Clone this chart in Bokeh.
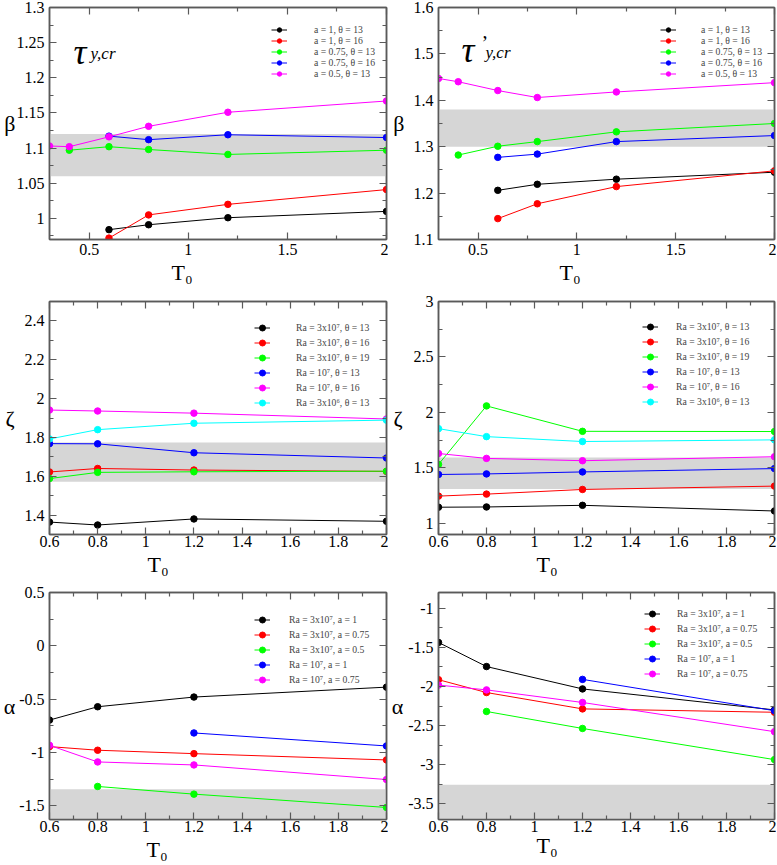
from bokeh.plotting import figure
from bokeh.layouts import gridplot
from bokeh.models import (Range1d, LinearAxis, FixedTicker, CustomJSTickFormatter,
                          BoxAnnotation, Legend, LegendItem, Label, Title)
from bokeh.embed import file_html
from bokeh.resources import INLINE

# ---------------- data ----------------
COLORS = ["#000000", "#ff0000", "#00ff00", "#0000ff", "#ff00ff", "#00ffff"]

# Panel A : beta vs T0, tau_y,cr
A_labels = ["a = 1, θ = 13", "a = 1, θ = 16", "a = 0.75, θ = 13", "a = 0.75, θ = 16", "a = 0.5, θ = 13"]
A_x = [[0.6, 0.8, 1.2, 2.0],
       [0.6, 0.8, 1.2, 2.0],
       [0.4, 0.6, 0.8, 1.2, 2.0],
       [0.6, 0.8, 1.2, 2.0],
       [0.3, 0.4, 0.6, 0.8, 1.2, 2.0]]
A_y = [[0.984, 0.991, 1.001, 1.010],
       [0.972, 1.005, 1.020, 1.041],
       [1.097, 1.102, 1.098, 1.091, 1.097],
       [1.117, 1.112, 1.119, 1.115],
       [1.103, 1.102, 1.116, 1.131, 1.151, 1.167]]
A_band = [1.06, 1.12]
A_xticks = [0.5, 1, 1.5, 2]
A_xminor = [0.75, 1.25, 1.75]
A_yticks = [1, 1.05, 1.1, 1.15, 1.2, 1.25, 1.3]
A_yminor = [0.975, 1.025, 1.075, 1.125, 1.175, 1.225, 1.275]

# Panel B : beta vs T0, tau'_y,cr
B_labels = A_labels
B_x = A_x
B_y = [[1.206, 1.219, 1.230, 1.245],
       [1.145, 1.177, 1.214, 1.248],
       [1.282, 1.301, 1.311, 1.332, 1.350],
       [1.277, 1.284, 1.311, 1.324],
       [1.447, 1.440, 1.421, 1.406, 1.418, 1.438]]
B_band = [1.30, 1.38]
B_yticks = [1.1, 1.2, 1.3, 1.4, 1.5, 1.6]
B_yminor = [1.15, 1.25, 1.35, 1.45, 1.55]

# Panel C : zeta vs T0
C_labels = ["Ra = 3x10⁷, θ = 13", "Ra = 3x10⁷, θ = 16", "Ra = 3x10⁷, θ = 19",
            "Ra = 10⁷, θ = 13", "Ra = 10⁷, θ = 16", "Ra = 3x10⁶, θ = 13"]
C_x = [[0.6, 0.8, 1.2, 2.0]] * 6
C_y = [[1.364, 1.349, 1.380, 1.368],
       [1.622, 1.640, 1.632, 1.625],
       [1.588, 1.620, 1.623, 1.626],
       [1.768, 1.767, 1.721, 1.694],
       [1.941, 1.936, 1.925, 1.895],
       [1.792, 1.840, 1.873, 1.889]]
C_band = [1.572, 1.774]
X2_ticks = [0.6, 0.8, 1, 1.2, 1.4, 1.6, 1.8, 2]
X2_minor = [0.7, 0.9, 1.1, 1.3, 1.5, 1.7, 1.9]
C_yticks = [1.4, 1.6, 1.8, 2, 2.2, 2.4]
C_yminor = [1.3, 1.5, 1.7, 1.9, 2.1, 2.3, 2.5]

# Panel D : zeta' vs T0
D_labels = C_labels
D_x = C_x
D_y = [[1.146, 1.148, 1.163, 1.112],
       [1.246, 1.264, 1.306, 1.336],
       [1.532, 2.059, 1.830, 1.828],
       [1.441, 1.446, 1.464, 1.494],
       [1.630, 1.586, 1.565, 1.601],
       [1.854, 1.782, 1.738, 1.753]]
D_band = [1.31, 1.595]
D_yticks = [1, 1.5, 2, 2.5, 3]
D_yminor = [1.25, 1.75, 2.25, 2.75]

# Panel E : alpha vs T0
E_labels = ["Ra = 3x10⁷, a = 1", "Ra = 3x10⁷, a = 0.75", "Ra = 3x10⁷, a = 0.5",
            "Ra = 10⁷, a = 1", "Ra = 10⁷, a = 0.75"]
E_x = [[0.6, 0.8, 1.2, 2.0],
       [0.6, 0.8, 1.2, 2.0],
       [0.8, 1.2, 2.0],
       [1.2, 2.0],
       [0.6, 0.8, 1.2, 2.0]]
E_y = [[-0.697, -0.572, -0.481, -0.388],
       [-0.946, -0.980, -1.012, -1.071],
       [-1.320, -1.392, -1.517],
       [-0.818, -0.940],
       [-0.934, -1.090, -1.118, -1.255]]
E_band = [-1.63, -1.345]
E_yticks = [-1.5, -1, -0.5, 0, 0.5]
E_yminor = [-1.25, -0.75, -0.25, 0.25]

# Panel F : alpha' vs T0
F_labels = E_labels
F_x = E_x
F_y = [[-1.438, -1.746, -2.032, -2.300],
       [-1.914, -2.078, -2.287, -2.330],
       [-2.320, -2.537, -2.935],
       [-1.910, -2.310],
       [-1.983, -2.044, -2.205, -2.578]]
F_band = [-3.7, -3.257]
F_yticks = [-3.5, -3, -2.5, -2, -1.5, -1]
F_yminor = [-3.25, -2.75, -2.25, -1.75, -1.25, -0.75]

# ---------------- styling ----------------
FRAME = "#5a5a5a"
FONT = "Liberation Serif"
BAND = "#d6d6d6"


def style_axis(ax, ticks, minor, show):
    ax.ticker = FixedTicker(ticks=ticks, minor_ticks=minor)
    ax.axis_line_color = FRAME
    ax.axis_line_width = 1.5
    ax.major_tick_line_color = FRAME
    ax.minor_tick_line_color = FRAME
    ax.major_tick_line_width = 1.2
    ax.minor_tick_line_width = 1.2
    ax.major_tick_in = 7
    ax.major_tick_out = 0
    ax.minor_tick_in = 4
    ax.minor_tick_out = 0
    if show:
        ax.formatter = CustomJSTickFormatter(code="return tick.toString();")
        ax.major_label_text_font = FONT
        ax.major_label_text_font_size = "16px"
        ax.major_label_text_color = "black"
    else:
        ax.formatter = CustomJSTickFormatter(code="return '';")
        ax.major_label_text_font_size = "0px"
        ax.major_label_standoff = 0


def panel(xr, yr, xt, xmt, yt, ymt, band, labels, xs, ys, ylab, W, H, bl, br, bt, bb,
          leg, ylab_standoff, t0_offset, t0_standoff, xstand):
    fh = H - bt - bb
    p = figure(width=W, height=H, x_range=Range1d(*xr), y_range=Range1d(*yr),
               x_axis_type=None, y_axis_type=None,
               output_backend="svg", toolbar_location=None,
               min_border_left=bl, min_border_right=br, min_border_top=bt, min_border_bottom=bb,
               background_fill_color="white", border_fill_color="white")
    p.outline_line_color = FRAME
    p.outline_line_width = 1.5
    below, left, above, right = LinearAxis(), LinearAxis(), LinearAxis(), LinearAxis()
    style_axis(below, xt, xmt, True)
    below.major_label_standoff = xstand
    style_axis(left, yt, ymt, True)
    left.major_label_standoff = 5
    left.axis_label = ylab
    left.axis_label_text_font = FONT
    left.axis_label_text_font_style = "normal"
    left.axis_label_text_font_size = "22px"
    left.axis_label_text_color = "black"
    try:
        left.axis_label_standoff = ylab_standoff
    except Exception:
        left.axis_label_standoff = 0
    if hasattr(left, "axis_label_orientation"):
        left.axis_label_orientation = "horizontal"
    style_axis(above, xt, xmt, False)
    style_axis(right, yt, ymt, False)
    p.add_layout(below, "below")
    p.add_layout(left, "left")
    p.add_layout(above, "above")
    p.add_layout(right, "right")
    # x-axis symbol T0 (placed left of centre as in the reference)
    t0 = Title(text="T₀", align="left", offset=t0_offset,
               text_font=FONT, text_font_size="22px", text_font_style="normal",
               text_color="black")
    try:
        t0.standoff = t0_standoff
    except Exception:
        t0.standoff = 0
    p.add_layout(t0, "below")

    p.add_layout(BoxAnnotation(bottom=band[0], top=band[1], fill_color=BAND, fill_alpha=1.0,
                               line_color=None, level="underlay"))

    items = []
    for i, (lab, x, y) in enumerate(zip(labels, xs, ys)):
        c = COLORS[i]
        rl = p.line(x, y, line_color=c, line_width=1)
        rs = p.scatter(x, y, marker="circle", size=6.5, fill_color=c, line_color=c)
        items.append(LegendItem(label=lab, renderers=[rl, rs]))
    lx, ltop, rh, ls = leg
    ly = fh - ltop - rh * len(items)
    legend = Legend(items=items, location=(lx, ly), glyph_width=16, glyph_height=rh,
                    label_height=rh, label_width=120, spacing=0, padding=0, margin=0,
                    border_line_color=None, background_fill_alpha=0,
                    label_text_font=FONT, label_text_font_size="9.7px",
                    label_standoff=ls)
    p.add_layout(legend)
    return p, fh


W1, W2 = 388, 388
p1, fh1 = panel((0.3, 2.0), (0.97, 1.3), A_xticks, A_xminor, A_yticks, A_yminor, A_band,
                A_labels, A_x, A_y, "β", W1, 290, 49, 2, 7, 51,
                (222, 16.5, 11, 27), -2, 122, 0, 4)
p2, fh2 = panel((0.3, 2.0), (1.1, 1.6), A_xticks, A_xminor, B_yticks, B_yminor, B_band,
                B_labels, B_x, B_y, "β", W2, 290, 50, 2, 7, 49,
                (222, 18.5, 11, 25), 6, 121, 0, 4)
p3, fh3 = panel((0.6, 2.0), (1.3, 2.5), X2_ticks, X2_minor, C_yticks, C_yminor, C_band,
                C_labels, C_x, C_y, "ζ", W1, 288, 49, 2, 10, 44,
                (205, 19.5, 15, 26), 7, 98, 0, 1)
p4, fh4 = panel((0.6, 2.0), (0.9, 3.0), X2_ticks, X2_minor, D_yticks, D_yminor, D_band,
                D_labels, D_x, D_y, "ζ", W2, 288, 50, 2, 11, 43,
                (204, 18.5, 15, 18), 8, 98, 0, 1)
p5, fh5 = panel((0.6, 2.0), (-1.63, 0.5), X2_ticks, X2_minor, E_yticks, E_yminor, E_band,
                E_labels, E_x, E_y, "α", W1, 286, 49, 2, 14, 45,
                (205, 19.5, 15, 19), 1, 97, 0, 1)
p6, fh6 = panel((0.6, 2.0), (-3.7, -0.8), X2_ticks, X2_minor, F_yticks, F_yminor, F_band,
                F_labels, F_x, F_y, "α", W2, 286, 50, 2, 14, 39,
                (206, 19.5, 15, 17), 2, 98, -8, 1)

# panel titles tau_y,cr and tau'_y,cr
p1.add_layout(Label(x=24, y=fh1 - 44, x_units="screen", y_units="screen", text="τ",
                    text_font=FONT, text_font_style="italic", text_font_size="36px",
                    text_baseline="alphabetic", text_color="black"))
p1.add_layout(Label(x=41, y=fh1 - 46, x_units="screen", y_units="screen", text="y,cr",
                    text_font=FONT, text_font_style="italic", text_font_size="17px",
                    text_baseline="alphabetic", text_color="black"))
p2.add_layout(Label(x=23, y=fh2 - 44, x_units="screen", y_units="screen", text="τ",
                    text_font=FONT, text_font_style="italic", text_font_size="36px",
                    text_baseline="alphabetic", text_color="black"))
p2.add_layout(Label(x=43, y=fh2 - 26, x_units="screen", y_units="screen", text="’",
                    text_font=FONT, text_font_size="20px",
                    text_baseline="top", text_color="black"))
p2.add_layout(Label(x=47, y=fh2 - 47, x_units="screen", y_units="screen", text="y,cr",
                    text_font=FONT, text_font_style="italic", text_font_size="17px",
                    text_baseline="alphabetic", text_color="black"))

grid = gridplot([[p1, p2], [p3, p4], [p5, p6]], toolbar_location=None)

open("out.html", "w").write(file_html(grid, INLINE))
